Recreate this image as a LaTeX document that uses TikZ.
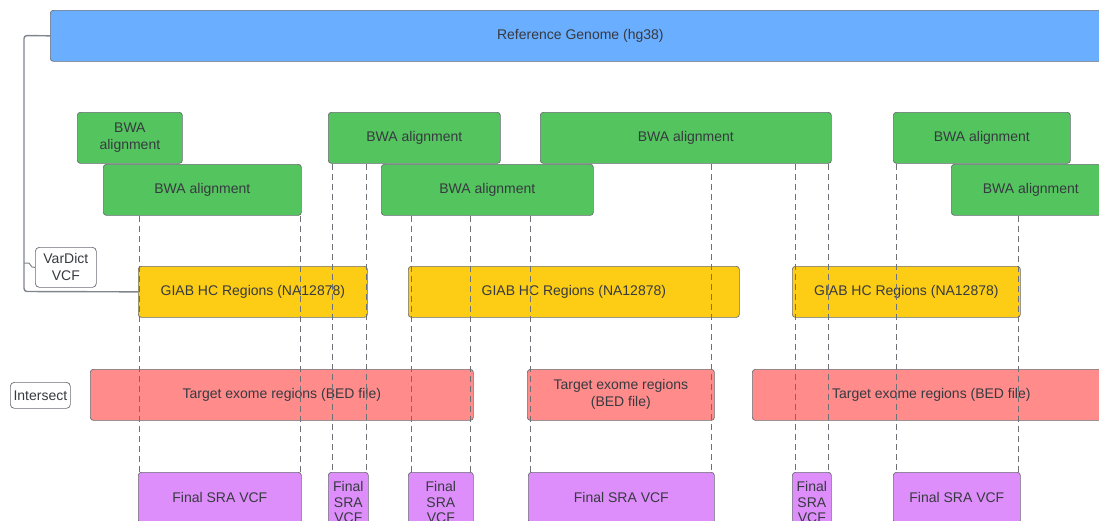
\documentclass[tikz,border=0pt]{standalone}
\usepackage{fontspec}
\setmainfont{Liberation Sans}
\begin{document}
\begin{tikzpicture}[x=1pt,y=-1pt]
\tikzset{bloc/.style = {draw           = bord,
                        rounded corners = 3pt,
                        text           = texte,
                        font           = \fontsize{14}{17}\selectfont,
                        align          = center,
                        inner sep      = 2pt,
                        line width     = 0.7pt,
                        anchor         = north west,
                        minimum height = 51pt},
         etroit/.style = {bloc, inner sep = 1pt, minimum height = 60pt,
                          font = \fontsize{14}{15.5}\selectfont},
         etiquette/.style = {bloc, fill = white, rounded corners = 4pt},
         guide/.style = {draw = trait, dash pattern = on 6pt off 4pt, line width = 0.8pt},
         accolade/.style = {draw = crochet, line width = 1.4pt, rounded corners = 3pt}}
\definecolor{bord}{RGB}{105,108,115}
\definecolor{texte}{RGB}{55,58,64}
\definecolor{trait}{RGB}{110,112,118}
\definecolor{crochet}{RGB}{128,132,140}
\definecolor{bleu}{RGB}{106,174,255}
\definecolor{vert}{RGB}{84,196,94}
\definecolor{jaune}{RGB}{252,205,20}
\definecolor{rouge}{RGB}{255,139,139}
\definecolor{violet}{RGB}{222,142,250}
\useasboundingbox (0,0) rectangle (1099,520);
\clip (0,0) rectangle (1099,520);
% genome
\node[bloc,fill=bleu,minimum width=1060pt] (Ref) at (50,10) {Reference Genome (hg38)};
% alignments
\node[bloc,fill=vert,minimum width=105pt] (G1) at (77,112)  {BWA\\alignment};
\node[bloc,fill=vert,minimum width=198pt] (G2) at (103,164) {BWA alignment};
\node[bloc,fill=vert,minimum width=172pt] (G3) at (328,112) {BWA alignment};
\node[bloc,fill=vert,minimum width=212pt] (G4) at (381,164) {BWA alignment};
\node[bloc,fill=vert,minimum width=291pt] (G5) at (540,112) {BWA alignment};
\node[bloc,fill=vert,minimum width=177pt] (G7) at (893,112) {BWA alignment};
\node[bloc,fill=vert,minimum width=159pt] (G6) at (951,164) {BWA alignment};
% high confidence regions
\node[bloc,fill=jaune,minimum width=229pt] (Y1) at (138,266) {GIAB HC Regions (NA12878)};
\node[bloc,fill=jaune,minimum width=331pt] (Y2) at (408,266) {GIAB HC Regions (NA12878)};
\node[bloc,fill=jaune,minimum width=228pt] (Y3) at (792,266) {GIAB HC Regions (NA12878)};
% exome
\node[bloc,fill=rouge,minimum width=383pt] (R1) at (90,369)  {Target exome regions (BED file)};
\node[bloc,fill=rouge,minimum width=187pt] (R2) at (527,369) {Target exome regions\\(BED file)};
\node[bloc,fill=rouge,minimum width=358pt] (R3) at (752,369) {Target exome regions (BED file)};
% final calls
\node[bloc,fill=violet,minimum width=163pt] (P1) at (138,472) {Final SRA VCF};
\node[etroit,fill=violet,minimum width=40pt] (P2) at (328,472) {Final\\SRA\\VCF};
\node[etroit,fill=violet,minimum width=65pt] (P3) at (408,472) {Final\\SRA\\VCF};
\node[bloc,fill=violet,minimum width=186pt] (P4) at (528,472) {Final SRA VCF};
\node[etroit,fill=violet,minimum width=39pt] (P5) at (792,472) {Final\\SRA\\VCF};
\node[bloc,fill=violet,minimum width=127pt] (P6) at (893,472) {Final SRA VCF};
% labels
\node[etiquette,minimum width=61pt,minimum height=40pt] (VarDict) at (35,247) {VarDict\\VCF};
\node[etiquette,minimum width=60pt,minimum height=26pt] (Inter) at (10,382) {Intersect};
% bracket
\draw[accolade] (Ref.west) -- (24,35.5) -- (24,291.5) -- (Y1.west);
\draw[draw=crochet,line width=1pt] (24,263) -- (29,263) -- (32,267) -- (VarDict.west);
% guides
\foreach \x/\a/\b in {139/G2/P1, 300/G2/P1, 332/G3/P2, 366/G3/P2,
                      411/G4/P3, 470/G4/P3, 530/G4/P4, 711/G5/P4,
                      795/G5/P5, 828/G5/P5, 896/G7/P6, 1018/G6/P6}
  \draw[guide] (\a.south -| \x,0) -- (\b.north -| \x,0);
\end{tikzpicture}
\end{document}
